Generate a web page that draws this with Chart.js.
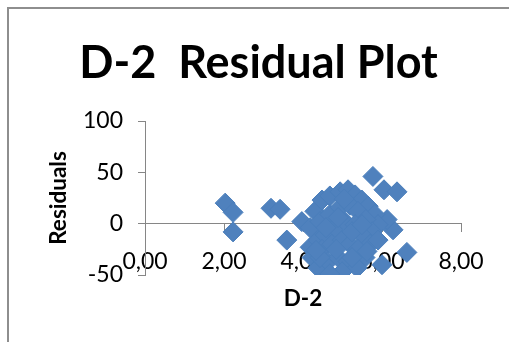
<!DOCTYPE html>
<html>
<head>
<meta charset="utf-8">
<script src="https://cdn.jsdelivr.net/npm/chart.js@4/dist/chart.umd.min.js"></script>
<style>
  body { margin: 0; background: #fff; }
  #wrap { position: relative; width: 509px; height: 342px; overflow: hidden; }
  #frame { position: absolute; left: 7px; top: 7px; width: 600px; height: 400px; border-left: 2px solid #8e8e8e; border-top: 2px solid #8e8e8e; }
  #residualChart { position: absolute; left: 0; top: 0; }
</style>
</head>
<body>
<div id="wrap">
  <div id="frame"></div>
  <canvas id="residualChart" width="509" height="342"></canvas>
</div>
<script>
// valores (D-2 vs residuos)
const xValues = [2.03, 2.23, 2.23, 3.19, 3.42, 3.59, 3.97, 5.77, 6.05, 6.38, 6.63, 6.00, 6.28, 6.13,
  4.30, 4.48, 4.68, 4.94, 5.14, 5.32, 5.49, 5.65, 5.82, 5.90,
  4.18, 4.43, 4.68, 4.94, 5.19, 5.39, 5.59, 5.75,
  4.18, 4.38, 4.56, 4.81, 5.06, 5.32, 5.49, 5.70, 5.90,
  4.23, 4.48, 4.73, 4.99, 5.19, 5.39, 5.57,
  4.38, 4.63, 4.89, 5.14, 5.37, 4.99, 4.68,
  4.84, 4.58, 5.24, 4.89, 5.49, 4.43, 5.24, 5.04, 4.33, 5.62];
const residuals = [20, 11, -8, 15, 14, -16, 2, 46, 33, 31, -28, -40, -6, 4,
  12, 23, 27, 31, 33, 28, 23, 17, 9, -1,
  -4, 2, 9, 16, 18, 12, 4, -8,
  -23, -16, -11, -4, 2, -1, -11, -20, -16,
  -33, -25, -20, -16, -20, -25, -33,
  -43, -37, -33, -37, -43, -47, -49,
  -25, -4, -8, 6, -1, -33, -33, 24, -26, -27];

const xTickLabels = ['0,00', '2,00', '4,00', '6,00', '8,00'];
const yTickLabels = ['-50', '0', '50', '100'];

const axisGray = '#868686';
const tickFont = { family: 'Lato', size: 23, lineHeight: 1.2 };

const puntos = xValues.map((x, i) => ({ x: x, y: residuals[i] }));

const chartConfig = {
  type: 'scatter',
  data: {
    datasets: [{
      label: 'Residuals',
      data: puntos,
      pointStyle: 'rectRot',
      radius: 10,
      hoverRadius: 10,
      backgroundColor: '#4F81BD',
      borderColor: '#4A7EBB',
      borderWidth: 1
    }]
  },
  options: {
    responsive: false,
    animation: false,
    devicePixelRatio: 1,
    layout: { padding: { left: 56, right: 48, top: 0, bottom: 67 } },
    plugins: {
      legend: { display: false },
      tooltip: { enabled: false },
      title: {
        display: true,
        text: 'D-2  Residual Plot',
        color: '#000',
        font: { family: 'Lato', size: 45, weight: 'bold', lineHeight: 1.2 },
        padding: { top: 36, bottom: 31 }
      }
    },
    scales: {
      // eje x: linea y marcas (debajo de los puntos)
      x: {
        type: 'linear',
        min: 0, max: 8,
        position: { y: 0 },
        afterFit: (scale) => { scale.height = 67; },
        border: { display: true, color: axisGray, width: 1 },
        grid: { display: true, drawOnChartArea: false, drawTicks: true, tickLength: 8, color: axisGray },
        ticks: { display: false, stepSize: 2 },
        title: {
          display: true,
          text: 'D-2',
          color: '#000',
          font: { family: 'Lato', size: 22.5, weight: 'bold', lineHeight: 1.2 },
          padding: { top: 0, bottom: -22 }
        }
      },
      // eje x: solo etiquetas (encima de los puntos, como en Excel)
      xLabels: {
        type: 'linear',
        axis: 'x',
        min: 0, max: 8,
        position: { y: 0 },
        z: 1,
        afterFit: (scale) => { scale.height = 0; },
        border: { display: false },
        grid: { display: false, drawTicks: true, tickLength: 8 },
        ticks: {
          stepSize: 2,
          color: '#000',
          font: tickFont,
          padding: 16,
          maxRotation: 0,
          callback: (value, index) => xTickLabels[index]
        }
      },
      y: {
        type: 'linear',
        min: -50, max: 100,
        position: 'left',
        afterFit: (scale) => { scale.width = 89; },
        border: { display: true, color: axisGray, width: 1 },
        grid: { display: true, drawOnChartArea: false, drawTicks: true, tickLength: 7, color: axisGray },
        ticks: {
          stepSize: 50,
          color: '#000',
          font: tickFont,
          padding: 15,
          callback: (value, index) => yTickLabels[index]
        },
        title: {
          display: true,
          text: 'Residuals',
          color: '#000',
          font: { family: 'Lato', size: 22.5, weight: 'bold', lineHeight: 1.2 },
          padding: { top: -11, bottom: 0 }
        }
      }
    }
  }
};

new Chart(document.getElementById('residualChart'), chartConfig);
</script>
</body>
</html>
